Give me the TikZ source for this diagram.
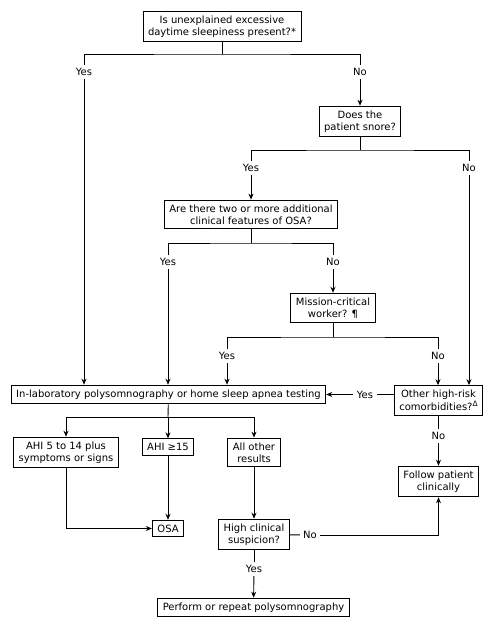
\documentclass[tikz,border=0pt]{standalone}
\usepackage{fontspec}
\setmainfont{DejaVu Sans}
\usetikzlibrary{arrows.meta}

\tikzset{
  box/.style={draw, line width=0.9bp, align=center, inner xsep=5bp, inner ysep=4.5bp, font=\fontsize{10bp}{12bp}\selectfont},
  lbl/.style={inner sep=3bp, font=\fontsize{10bp}{12bp}\selectfont},
  arr/.style={-{Stealth[length=6bp,width=5bp]}}
}
\newcommand{\dmark}{\raisebox{0.45em}{\fontsize{7.5bp}{7.5bp}\selectfont Δ}}

\begin{document}
\begin{tikzpicture}[x=1bp, y=-1bp, line width=0.9bp]
  \useasboundingbox (0,0) rectangle (496,630);
  \coordinate (J1) at (222,54);
  \coordinate (J2) at (360,150);
  \coordinate (J3) at (251,243);
  \coordinate (J4) at (333,337);
  \coordinate (J5) at (168,417);
  \node[box] (sleepy) at (222,26.5) {Is unexplained excessive\\daytime sleepiness present?*};
  \node[box] (snore) at (360,121.5) {Does the\\patient snore?};
  \node[box] (features) at (251,214.5) {Are there two or more additional\\clinical features of OSA?};
  \node[box] (mission) at (333,308) {Mission-critical\\worker? ¶};
  \node[box] (testing) at (168.5,394.5) {In-laboratory polysomnography or home sleep apnea testing};
  \node[box] (comorb) at (438.5,400.5) {Other high-risk\\comorbidities?\dmark};
  \node[box] (follow) at (438.5,481.5) {Follow patient\\clinically};
  \node[box] (mild) at (66,452.5) {AHI 5 to 14 plus\\symptoms or signs};
  \node[box] (severe) at (168,447) {AHI ≥15};
  \node[box] (other) at (254,452.5) {All other\\results};
  \node[box] (osa) at (168,528.5) {OSA};
  \node[box] (suspicion) at (254,534.5) {High clinical\\suspicion?};
  \node[box] (repeat) at (253.5,607.5) {Perform or repeat polysomnography};
  \node[lbl] (Y1) at (84,72) {Yes};
  \node[lbl] (N1) at (360,72) {No};
  \node[lbl] (Y2) at (251,168) {Yes};
  \node[lbl] (N2) at (469,168) {No};
  \node[lbl] (Y3) at (168,262) {Yes};
  \node[lbl] (N3) at (333,262) {No};
  \node[lbl] (Y4) at (227,356) {Yes};
  \node[lbl] (N4) at (438,356) {No};
  \node[lbl] (Y5) at (365,394.5) {Yes};
  \node[lbl] (N6) at (438.5,436) {No};
  \node[lbl] (N7) at (310,535) {No};
  \node[lbl] (Y7) at (254,569) {Yes};
  \draw[] (sleepy) -- (J1);
  \draw[] (Y1) |- (J1) -| (N1);
  \draw[arr] (Y1) -- (Y1 |- testing.north);
  \draw[arr] (N1) -- (snore);
  \draw[] (snore) -- (J2);
  \draw[] (Y2) |- (J2) -| (N2);
  \draw[arr] (Y2) -- (features);
  \draw[arr] (N2) -- (N2 |- comorb.north);
  \draw[] (features) -- (J3);
  \draw[] (Y3) |- (J3) -| (N3);
  \draw[arr] (Y3) -- (Y3 |- testing.north);
  \draw[arr] (N3) -- (mission);
  \draw[] (mission) -- (J4);
  \draw[] (Y4) |- (J4) -| (N4);
  \draw[arr] (Y4) -- (Y4 |- testing.north);
  \draw[arr] (N4) -- (N4 |- comorb.north);
  \draw[] (comorb.west |- testing) -- (Y5);
  \draw[arr] (Y5) -- (testing);
  \draw[] (comorb) -- (N6);
  \draw[arr] (N6) -- (follow);
  \draw[] (testing) -- (J5);
  \draw[arr] (J5) -| (mild);
  \draw[arr] (J5) -- (severe);
  \draw[arr] (J5) -| (other);
  \draw[arr] (mild) |- (osa);
  \draw[arr] (severe) -- (osa);
  \draw[arr] (other) -- (suspicion);
  \draw[] (suspicion) -- (N7);
  \draw[arr] (N7) -| (follow);
  \draw[] (suspicion) -- (Y7);
  \draw[arr] (Y7) -- (repeat);
\end{tikzpicture}
\end{document}
